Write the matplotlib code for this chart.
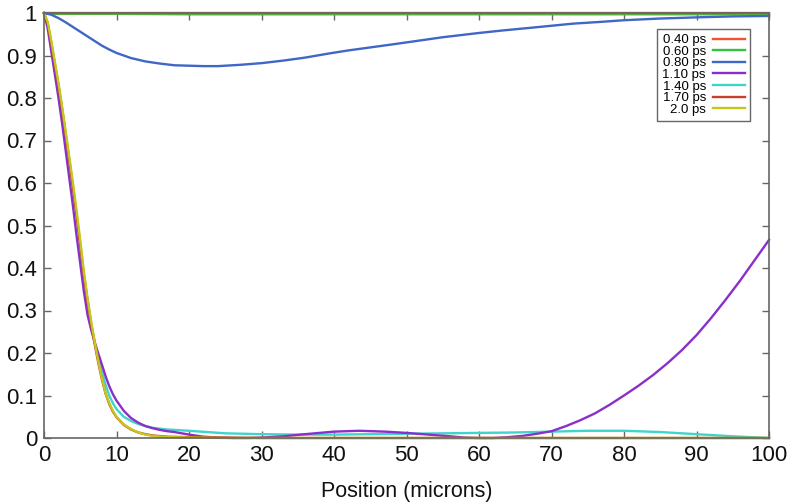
import matplotlib
matplotlib.use("Agg")
import matplotlib.pyplot as plt
from matplotlib.ticker import FuncFormatter

plt.rcParams['font.family'] = ['Liberation Sans', 'DejaVu Sans']

# ---- data ----
labels = ["0.40 ps", "0.60 ps", "0.80 ps", "1.10 ps", "1.40 ps", "1.70 ps", "2.0 ps"]
colors = ["#ee5533", "#33c33f", "#3f67c6", "#8a2fc9", "#3fd4cc", "#c6402a", "#c4c81e"]

x_040 = [0, 10, 20, 30, 40, 50, 60, 70, 80, 90, 100]
y_040 = [1.0, 1.0, 1.0, 1.0, 1.0, 1.0, 1.0, 1.0, 1.0, 1.0, 1.0]

x_060 = [0, 10, 20, 30, 40, 50, 60, 70, 80, 90, 100]
y_060 = [0.998, 0.998, 0.997, 0.997, 0.997, 0.997, 0.997, 0.997, 0.997, 0.997, 0.997]

x_080 = [0, 1, 2, 3, 4, 5, 6, 7, 8, 9, 10, 12, 14, 16, 18, 20, 22, 24, 27, 30,
         33, 36, 39.4, 42, 45, 48, 50.9, 55, 60, 63.3, 67, 70, 73, 76.7, 80, 85,
         90.5, 95, 100]
y_080 = [1.0, 0.996, 0.988, 0.978, 0.967, 0.956, 0.945, 0.934, 0.923, 0.914,
         0.906, 0.894, 0.886, 0.881, 0.877, 0.876, 0.875, 0.875, 0.878, 0.882,
         0.888, 0.895, 0.905, 0.912, 0.919, 0.926, 0.933, 0.943, 0.953, 0.959,
         0.965, 0.97, 0.975, 0.979, 0.983, 0.987, 0.990, 0.992, 0.993]

x_110 = [0, 0.5, 1, 1.5, 2, 2.5, 3, 3.5, 4, 4.5, 5, 5.5, 6, 6.5, 7, 7.5, 8, 8.5,
         9, 9.5, 10, 11, 12, 13, 14, 15, 16, 17, 18, 20, 22, 24, 26, 28, 30, 33,
         36, 40, 43.5, 47, 50, 53, 56, 58, 60, 62, 64, 66, 68, 70, 72, 74, 76, 78,
         80, 82, 84, 86, 88, 90, 92, 94, 96, 98, 100]
y_110 = [1.0, 0.965, 0.91, 0.855, 0.8, 0.74, 0.675, 0.61, 0.545, 0.475, 0.41,
         0.345, 0.29, 0.255, 0.225, 0.198, 0.172, 0.145, 0.122, 0.103, 0.088,
         0.064, 0.047, 0.036, 0.028, 0.023, 0.019, 0.016, 0.014, 0.008, 0.003,
         0.001, 0.0, 0.0, 0.001, 0.004, 0.009, 0.015, 0.017, 0.015, 0.012, 0.008,
         0.004, 0.001, 0.0, 0.0, 0.002, 0.005, 0.01, 0.016, 0.028, 0.042, 0.058,
         0.078, 0.1, 0.123, 0.148, 0.176, 0.207, 0.242, 0.282, 0.325, 0.37,
         0.418, 0.466]

x_140 = [0, 0.5, 1, 1.5, 2, 2.5, 3, 3.5, 4, 4.5, 5, 5.5, 6, 6.5, 7, 7.5, 8, 8.5,
         9, 9.5, 10, 11, 12, 13, 14, 15, 17, 20, 25, 30, 35, 40, 45, 50, 55, 60,
         65, 70, 75, 80, 85, 90, 95, 100]
y_140 = [1.0, 0.975, 0.93, 0.88, 0.83, 0.775, 0.715, 0.655, 0.59, 0.525, 0.455,
         0.385, 0.325, 0.27, 0.225, 0.19, 0.155, 0.125, 0.1, 0.082, 0.068, 0.05,
         0.04, 0.033, 0.028, 0.024, 0.02, 0.017, 0.011, 0.009, 0.008, 0.008,
         0.009, 0.01, 0.011, 0.012, 0.013, 0.015, 0.017, 0.017, 0.014, 0.009,
         0.004, 0.0]

x_170 = [0, 0.5, 1, 1.5, 2, 2.5, 3, 3.5, 4, 4.5, 5, 5.5, 6, 6.5, 7, 7.5, 8, 8.5,
         9, 9.5, 10, 11, 12, 13, 14, 15, 17, 20, 25, 30, 35, 100]
y_170 = [1.0, 0.975, 0.93, 0.878, 0.828, 0.772, 0.712, 0.65, 0.588, 0.522, 0.452,
         0.382, 0.322, 0.268, 0.22, 0.176, 0.137, 0.104, 0.08, 0.062, 0.049,
         0.031, 0.02, 0.013, 0.009, 0.006, 0.003, 0.002, 0.001, 0.0, 0.0, 0.0]

x_200 = [0, 0.5, 1, 1.5, 2, 2.5, 3, 3.5, 4, 4.5, 5, 5.5, 6, 6.5, 7, 7.5, 8, 8.5,
         9, 9.5, 10, 11, 12, 13, 14, 15, 17, 20, 25, 100]
y_200 = [1.0, 0.98, 0.935, 0.885, 0.835, 0.78, 0.72, 0.66, 0.6, 0.535, 0.465,
         0.392, 0.33, 0.275, 0.225, 0.18, 0.14, 0.105, 0.082, 0.064, 0.05, 0.032,
         0.021, 0.013, 0.008, 0.005, 0.002, 0.001, 0.0, 0.0]

series = [(x_040, y_040), (x_060, y_060), (x_080, y_080), (x_110, y_110),
          (x_140, y_140), (x_170, y_170), (x_200, y_200)]

x_ticks = [0, 10, 20, 30, 40, 50, 60, 70, 80, 90, 100]
y_ticks = [0, 0.1, 0.2, 0.3, 0.4, 0.5, 0.6, 0.7, 0.8, 0.9, 1.0]

# ---- figure ----
fig = plt.figure(figsize=(7.96, 5.04), dpi=100)
ax = fig.add_axes([44 / 796, 66 / 504, 725 / 796, 425 / 504])

draw_order = [1, 0, 2, 4, 3, 5, 6]
handles = [None] * len(series)
for i in draw_order:
    xs, ys = series[i]
    ln, = ax.plot(xs, ys, color=colors[i], lw=1.7, label=labels[i],
                  solid_joinstyle='round', clip_on=False)
    handles[i] = ln

ax.set_xlim(0, 100)
ax.set_ylim(0, 1)
ax.set_xticks(x_ticks)
ax.set_yticks(y_ticks)
ax.yaxis.set_major_formatter(FuncFormatter(lambda v, p: f"{v:g}"))
ax.tick_params(direction='in', top=True, right=True, length=5, width=1,
               color='#666666', labelsize=16, pad=5, labelcolor='#111111')
for s in ax.spines.values():
    s.set_color('#666666')
    s.set_linewidth(1.2)

ax.set_xlabel("Position (microns)", fontsize=15.5, color='#111111', labelpad=11)

leg = ax.legend(handles=handles, labels=labels, loc='upper right',
                bbox_to_anchor=(0.974, 0.963), borderaxespad=0.0,
                markerfirst=False,
                fontsize=9.5, labelspacing=-0.05, handlelength=2.4,
                handletextpad=0.55, borderpad=0.4, fancybox=False,
                framealpha=1, edgecolor='#666666')
leg.get_frame().set_linewidth(1.0)

fig.savefig("out.png", dpi=100)
